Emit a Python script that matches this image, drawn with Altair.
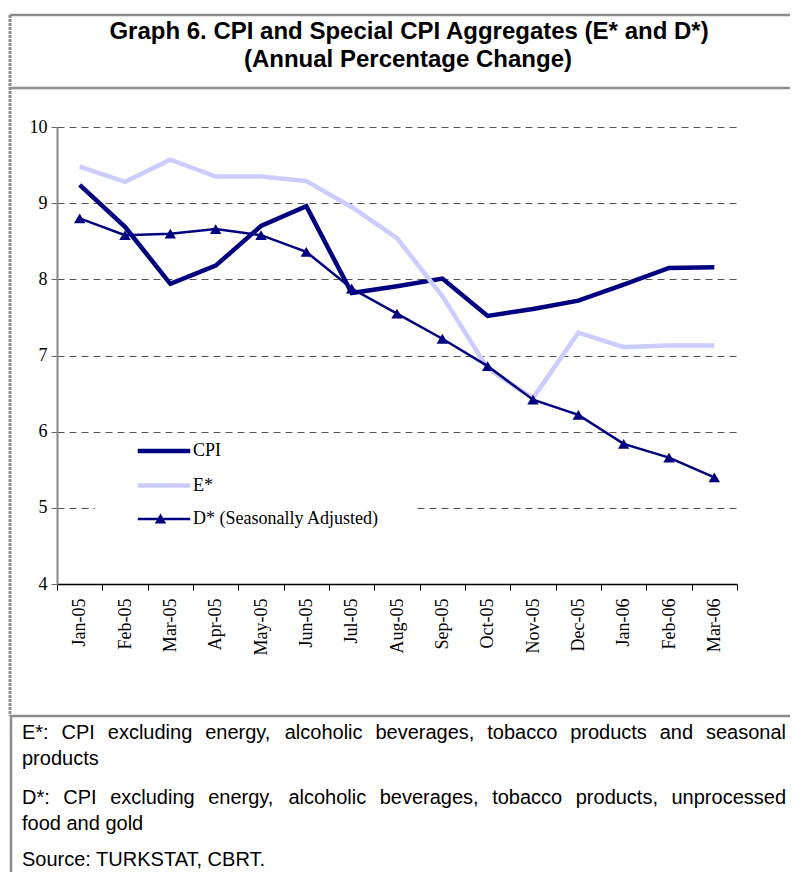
import altair as alt
import pandas as pd

months = ["Jan-05", "Feb-05", "Mar-05", "Apr-05", "May-05", "Jun-05", "Jul-05",
          "Aug-05", "Sep-05", "Oct-05", "Nov-05", "Dec-05", "Jan-06", "Feb-06", "Mar-06"]
cpi = [9.24, 8.69, 7.94, 8.18, 8.70, 8.96, 7.82, 7.91, 8.01, 7.52, 7.61, 7.72, 7.93, 8.15, 8.16]
e_star = [9.48, 9.28, 9.57, 9.35, 9.35, 9.29, 8.95, 8.54, 7.78, 6.83, 6.44, 7.30, 7.11, 7.13, 7.13]
d_star = [8.80, 8.58, 8.60, 8.66, 8.58, 8.36, 7.88, 7.55, 7.22, 6.86, 6.42, 6.22, 5.84, 5.66, 5.40]
series_names = ["CPI", "E*", "D* (Seasonally Adjusted)"]
series_colors = ["#000080", "#ccccff", "#000080"]
series_widths = [4.5, 4.5, 2.5]
y_ticks = [4, 5, 6, 7, 8, 9, 10]

title_lines = ["Graph 6. CPI and Special CPI Aggregates (E* and D*)",
               "(Annual Percentage Change)"]
note_lines = [
    "E*: CPI excluding energy, alcoholic beverages, tobacco products and seasonal",
    "products",
    "D*: CPI excluding energy, alcoholic beverages, tobacco products, unprocessed",
    "food and gold",
    "Source: TURKSTAT, CBRT.",
]
note_justified = [True, False, True, False, False]

rows = []
for name, vals in zip(series_names, [cpi, e_star, d_star]):
    for m, v in zip(months, vals):
        rows.append({"month": m, "series": name, "value": v})
df = pd.DataFrame(rows)
d_df = df[df["series"] == series_names[2]]

W, H = 680, 457
SERIF = "Liberation Serif"
SANS = "Liberation Sans"
BORDER = "#8c8c8c"

x_enc = alt.X(
    "month:N", sort=months,
    scale=alt.Scale(type="band", paddingInner=0, paddingOuter=0),
    bandPosition=0.5,
    axis=alt.Axis(title=None, labelAngle=270, labelFont=SERIF, labelFontSize=18,
                  labelColor="black", labelPadding=8, tickBand="extent",
                  tickSize=6, tickColor="black", domainColor="black",
                  domainWidth=1.5, grid=False),
)
y_enc = alt.Y(
    "value:Q",
    scale=alt.Scale(domain=[4, 10], nice=False, zero=False),
    axis=alt.Axis(title=None, values=y_ticks, labelFont=SERIF, labelFontSize=18,
                  labelColor="black", labelPadding=4, tickSize=6, tickColor="#666",
                  domainColor="#888", domainWidth=2, grid=True, gridColor="#555",
                  gridDash=[7, 5], gridWidth=1),
)

legend_main = alt.Legend(
    title=None, orient="none", legendX=94, legendY=311,
    symbolType="M-2.5,0H2.5", symbolSize=441, labelOffset=16,
    labelFont=SERIF, labelFontSize=18, labelColor="black",
    rowPadding=12.5, padding=0, labelLimit=400,
)

one = alt.Data(values=[{}])

bg = alt.Chart(one).mark_rect(color="white").encode(
    x=alt.value(38), x2=alt.value(358), y=alt.value(313), y2=alt.value(403)
)

lines = alt.Chart(df).mark_line().encode(
    x=x_enc, y=y_enc,
    color=alt.Color("series:N", scale=alt.Scale(domain=series_names, range=series_colors),
                    legend=legend_main),
    strokeWidth=alt.StrokeWidth("series:N",
                                scale=alt.Scale(type="ordinal", domain=series_names,
                                                range=series_widths),
                                legend=legend_main),
)

pts = alt.Chart(d_df).mark_point(filled=True, size=130, color="#000080", opacity=1).encode(
    x=x_enc, y=y_enc,
    shape=alt.Shape("series:N",
                    scale=alt.Scale(domain=[series_names[2]], range=["triangle-up"]),
                    legend=alt.Legend(title=None, orient="none", legendX=97, legendY=385,
                                      labelExpr="''", padding=0, symbolSize=130,
                                      symbolFillColor="#000080",
                                      symbolStrokeColor="#000080")),
)

# Arial / Liberation Sans advance widths (per 1000 em) for justifying the notes
ARIAL = {" ": 278, "*": 389, ",": 278, ":": 278, ".": 278, "-": 333, "(": 333, ")": 333,
         "a": 556, "b": 556, "c": 500, "d": 556, "e": 556, "f": 278, "g": 556, "h": 556,
         "i": 222, "j": 222, "k": 500, "l": 222, "m": 833, "n": 556, "o": 556, "p": 556,
         "q": 556, "r": 333, "s": 500, "t": 278, "u": 556, "v": 500, "w": 722, "x": 500,
         "y": 500, "z": 500, "C": 722, "D": 722, "E": 667, "I": 278, "P": 667}


def text_width(s, size):
    return sum(ARIAL.get(ch, 556) for ch in s) * size / 1000.0


def txt(s, x, y, size, weight="normal", align="left", font=SANS):
    return alt.Chart(one).mark_text(
        text=s, font=font, fontSize=size, fontWeight=weight, align=align,
        baseline="alphabetic", color="black"
    ).encode(x=alt.value(x), y=alt.value(y))


def hrule(y, x1, x2, width=2.5, dash=None):
    kw = dict(color=BORDER, strokeWidth=width)
    if dash:
        kw["strokeDash"] = dash
    return alt.Chart(one).mark_rule(**kw).encode(
        x=alt.value(x1), x2=alt.value(x2), y=alt.value(y))


def vrule(x, y1, y2, width=2.5, dash=None):
    kw = dict(color=BORDER, strokeWidth=width)
    if dash:
        kw["strokeDash"] = dash
    return alt.Chart(one).mark_rule(**kw).encode(
        x=alt.value(x), y=alt.value(y1), y2=alt.value(y2))


decor = [
    txt(title_lines[0], 352, -88, 24, "bold", "center"),
    txt(title_lines[1], 351, -60, 24, "bold", "center"),
    hrule(-112, -47, 733),
    hrule(-39, -47, 733),
    vrule(-47, -112, 589, 3, [3, 1]),
    hrule(589, -47, 733),
    vrule(-46, 589, 747, 2.5),
]

NOTE_SIZE = 20
NOTE_LEFT, NOTE_RIGHT = -35, 729
for s, yy, just in zip(note_lines, [612, 638, 677, 703, 739], note_justified):
    if not just:
        decor.append(txt(s, NOTE_LEFT, yy, NOTE_SIZE))
        continue
    words = s.split(" ")
    widths = [text_width(w, NOTE_SIZE) for w in words]
    gap = (NOTE_RIGHT - NOTE_LEFT - sum(widths)) / (len(words) - 1)
    xpos = NOTE_LEFT
    for w, ww in zip(words, widths):
        decor.append(txt(w, xpos, yy, NOTE_SIZE))
        xpos += ww + gap

chart = alt.layer(bg, lines, pts, *decor).properties(
    width=W, height=H,
    padding={"left": 49, "top": 119, "right": 53, "bottom": 288},
    autosize=alt.AutoSizeParams(type="none"),
).configure_view(stroke=None)

chart.save("out.html", embed_options={"renderer": "svg", "actions": False})
